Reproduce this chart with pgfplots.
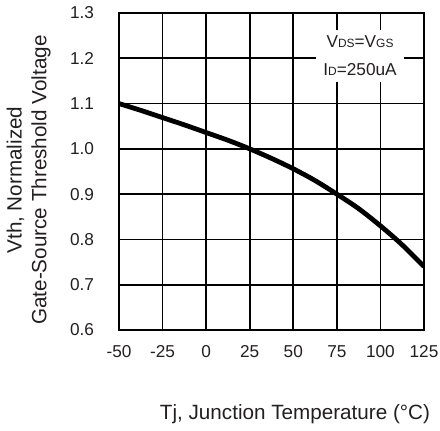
\documentclass[border=0pt]{standalone}
\usepackage{fontspec}
\setmainfont{Liberation Sans}
\usepackage{graphicx}
\usepackage{pgfplots}
\pgfplotsset{compat=1.18}
\definecolor{txt}{HTML}{231F20}
\begin{document}
\LARGE
\begin{tikzpicture}
\useasboundingbox (-119bp,-101bp) rectangle (321bp,330bp);
\begin{axis}[
  scale only axis,
  width=305bp, height=317bp,
  xmin=-50, xmax=125, ymin=0.6, ymax=1.3,
  xtick={-50,-25,0,25,50,75,100,125},
  ytick={0.6,0.7,0.8,0.9,1.0,1.1,1.2,1.3},
  yticklabels={0.6,0.7,0.8,0.9,1.0,1.1,1.2,1.3},
  xticklabels={-50,-25,0,25,50,75,100,125},
  tick label style={text=txt},
  yticklabel style={xshift=-19bp},
  xticklabel style={yshift=-10bp},
  major tick length=0pt,
  grid=major,
  grid style={line width=1.8bp, black},
  axis line style={line width=1.8bp, black},
  xlabel={Tj, Junction Temperature (\textdegree C)},
  xlabel style={font=\huge, text=txt, at={(axis description cs:0.577,-0.265)}, anchor=center},
  clip=true,
]
\addplot[line width=4.8bp, black, smooth] coordinates {
(-50,1.100) (-37.5,1.085) (-25,1.069) (-12.5,1.053) (0,1.036) (12.5,1.019)
(25,1.000) (37.5,0.979) (50,0.956) (62.5,0.930) (75,0.900) (87.5,0.868)
(100,0.830) (112.5,0.788) (125,0.740)
};
\node[fill=white, inner xsep=7bp, inner ysep=6bp, align=center, text=txt, font=\LARGE, anchor=center]
  at (axis cs:88.3,1.206) {V{\large DS}=V{\large GS}\\[6bp]I{\large D}=250uA};
\end{axis}
\node[inner sep=0pt, anchor=center, text=txt] at (-90bp,150bp) {\rotatebox{90}{\huge\begin{tabular}{@{}c@{}}Vth, Normalized\\Gate-Source Threshold Voltage\end{tabular}}};
\end{tikzpicture}
\end{document}
